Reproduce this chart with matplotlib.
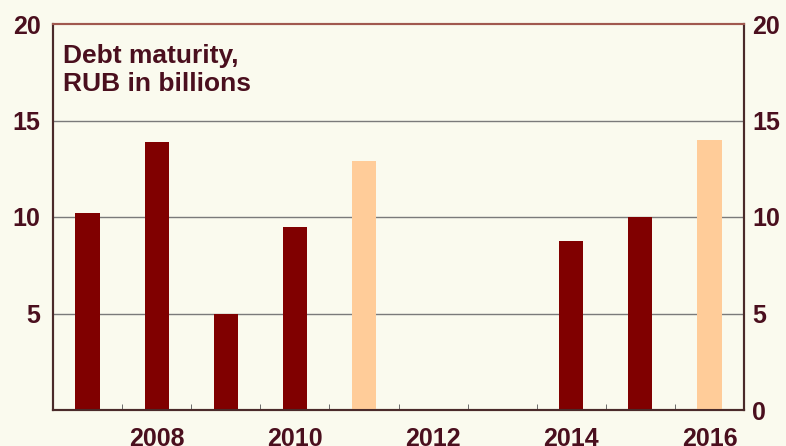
import matplotlib.pyplot as plt
import numpy as np

# Debt maturity by year, RUB bn
years = [2007, 2008, 2009, 2010, 2011, 2012, 2013, 2014, 2015, 2016]
values = [10.2, 13.9, 5.0, 9.5, 12.9, 0, 0, 8.75, 10.0, 14.0]
highlight = [False, False, False, False, True, False, False, False, False, True]
year_labels = ["2008", "2010", "2012", "2014", "2016"]

bg = "#FAFAEE"
dark = "#800000"
light = "#FFCC99"
txt = "#4A0F1E"

plt.rcParams['font.family'] = ['Liberation Sans', 'DejaVu Sans']

fig = plt.figure(figsize=(7.86, 4.46), dpi=100, facecolor=bg)
ax = fig.add_axes([53 / 786, 1 - 410 / 446, 691 / 786, 386 / 446])
ax.set_facecolor(bg)

x = np.arange(len(years))
colors = [light if h else dark for h in highlight]
ax.bar(x, values, width=0.35, color=colors, zorder=3)

ax.set_xlim(-0.5, len(years) - 0.5)
ax.set_ylim(0, 20)

for y in [5, 10, 15]:
    ax.axhline(y, color="#7A7A7A", lw=1.0, zorder=1)

# year labels under every second slot
ax.set_xticks([i for i, yr in enumerate(years) if str(yr) in year_labels])
ax.set_xticklabels(year_labels, fontsize=18, fontweight="bold", color=txt)
ax.tick_params(axis="x", length=0, pad=12)
ax.set_xticks(np.arange(0.5, len(years) - 1, 1.0), minor=True)
ax.tick_params(axis="x", which="minor", direction="in", length=4, color="#555555")

ax.set_yticks([5, 10, 15, 20])
ax.set_yticklabels(["5", "10", "15", "20"], fontsize=18, fontweight="bold", color=txt)
ax.tick_params(axis="y", length=0, pad=9)

ax2 = ax.twinx()
ax2.set_ylim(0, 20)
ax2.set_yticks([0, 5, 10, 15, 20])
ax2.set_yticklabels(["0", "5", "10", "15", "20"], fontsize=18, fontweight="bold", color=txt)
ax2.tick_params(axis="y", length=0, pad=6)

for a in (ax, ax2):
    a.spines["left"].set_color("#4A2A2A")
    a.spines["right"].set_color("#4A2A2A")
    a.spines["bottom"].set_color("#4A2A2A")
    a.spines["top"].set_color("#A0584F")
    for s in a.spines.values():
        s.set_linewidth(1.5)

ax.text(0.014, 0.948, "Debt maturity,\nRUB in billions", transform=ax.transAxes,
        ha="left", va="top", fontsize=19, fontweight="bold", color=txt,
        linespacing=1.2)

fig.savefig("out.png", dpi=100, facecolor=bg)
